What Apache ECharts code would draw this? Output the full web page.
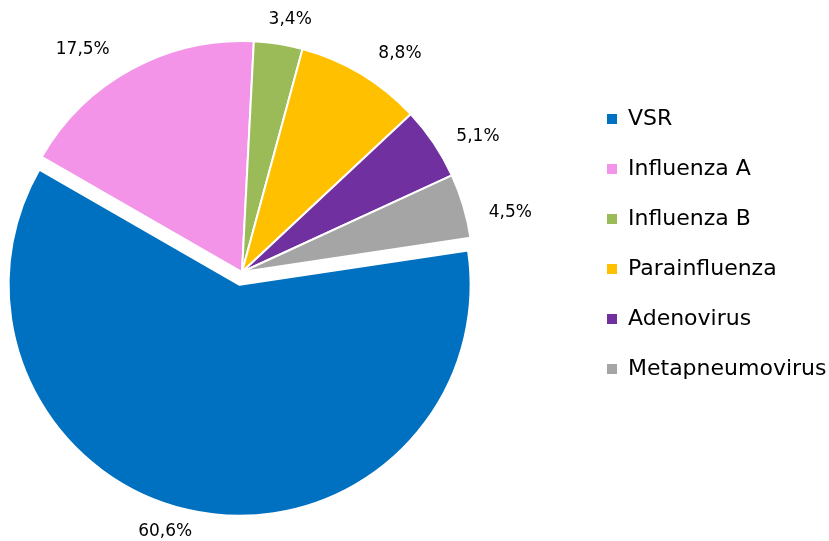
<!DOCTYPE html>
<html>
<head>
<meta charset="utf-8">
<script src="https://cdn.jsdelivr.net/npm/echarts@6/dist/echarts.min.js"></script>
<style>
  html, body { margin: 0; padding: 0; background: #fff; }
  #chart { width: 829px; height: 541px; }
</style>
</head>
<body>
<div id="chart"></div>
<script>
// virus names and share of cases (%)
const names = ["VSR", "Influenza A", "Influenza B", "Parainfluenza", "Adenovirus", "Metapneumovirus"];
const values = [60.6, 17.5, 3.4, 8.8, 5.1, 4.5];
const colors = ["#0070C0", "#F394E8", "#9BBB59", "#FFC000", "#7030A0", "#A5A5A5"];

// small manual nudges of the percent labels (px), like dragged labels in the original
const labelNudge = [[5, 6], [-8, -7], [-19, -10], [3, -9], [4, 1], [5, 11]];

const chart = echarts.init(document.getElementById("chart"), null, { renderer: "canvas" });

const pieData = names.map((n, i) => ({
  name: n,
  value: values[i],
  selected: i === 0,
  itemStyle: { color: colors[i] },
}));

const fmt = (p) => p.value.toFixed(1).replace(".", ",") + "%";

chart.setOption({
  animation: false,
  legend: {
    orient: "vertical",
    left: 605,
    top: 107,
    padding: 0,
    icon: "rect",
    itemWidth: 12,
    itemHeight: 12,
    itemGap: 26,
    textStyle: {
      fontFamily: "DejaVu Sans",
      fontSize: 22,
      lineHeight: 24,
      color: "#000",
      padding: [0, 0, 0, 5],
    },
    data: names,
  },
  series: [
    {
      type: "pie",
      center: [242, 272],
      radius: 231,
      startAngle: 8.5,
      clockwise: true,
      selectedMode: "single",
      selectedOffset: 13,
      silent: true,
      avoidLabelOverlap: false,
      itemStyle: { borderColor: "#fff", borderWidth: 2 },
      label: {
        show: true,
        position: "outside",
        formatter: fmt,
        fontFamily: "DejaVu Sans",
        fontSize: 17,
        color: "#000",
        distanceToLabelLine: 3,
      },
      labelLine: { show: false, length: 14, length2: 4 },
      labelLayout: (p) => ({ dx: labelNudge[p.dataIndex][0], dy: labelNudge[p.dataIndex][1] }),
      data: pieData,
    },
  ],
});
</script>
</body>
</html>
